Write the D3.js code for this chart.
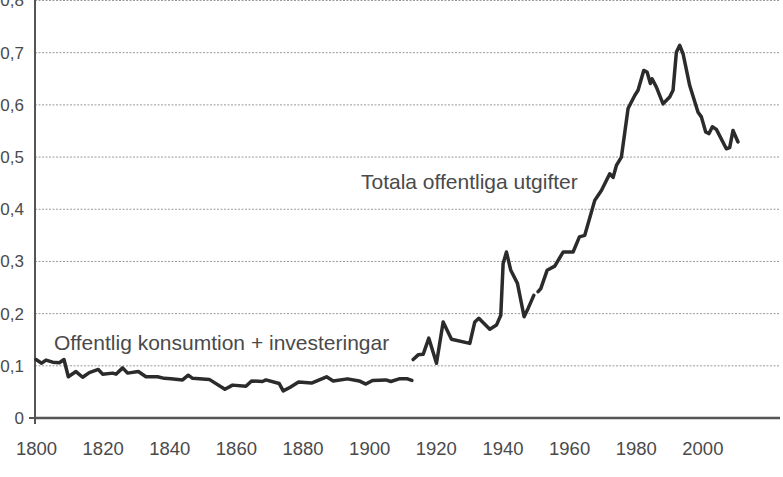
<!DOCTYPE html>
<html>
<head>
<meta charset="utf-8">
<script src="https://cdn.jsdelivr.net/npm/d3@7"></script>
<style>
  html, body { margin: 0; padding: 0; background: #fff; }
  svg { display: block; }
</style>
</head>
<body>
<svg id="chart" width="783" height="477"></svg>
<script>
// Offentlig konsumtion + investeringar (1800–1912)
const consYears = [1800,1801.7,1803,1805,1807,1808.4,1809.7,1812,1814,1816,1818.7,1820,1823,1824,1826,1827.5,1830.7,1833,1836.5,1838.5,1840.5,1844,1845.7,1847,1852,1856.7,1859,1863,1864.7,1868,1869,1873,1874.2,1876.3,1878.8,1882.7,1887.2,1889.2,1893.5,1897,1899,1901,1905,1906.5,1909,1911.5,1912.8];
const consValues = [0.112,0.105,0.111,0.107,0.106,0.112,0.079,0.089,0.078,0.087,0.093,0.084,0.086,0.084,0.096,0.086,0.089,0.079,0.079,0.076,0.075,0.073,0.082,0.076,0.074,0.055,0.063,0.061,0.071,0.070,0.073,0.066,0.052,0.059,0.069,0.067,0.079,0.071,0.075,0.071,0.065,0.072,0.073,0.070,0.075,0.075,0.072];

// Totala offentliga utgifter (1913–2010), null = break in series
const totYears = [1913.2,1914.7,1916.2,1917.9,1920.2,1922.2,1924.7,1930.2,1931.7,1932.9,1936.2,1938.2,1939.5,1940.2,1941.2,1942.5,1944.5,1946.5,1947.7,1949.4,1950.0,1950.7,1951.5,1953.4,1955.7,1958.2,1961.2,1963.1,1964.7,1967.7,1969.7,1972.2,1973.2,1974.2,1975.7,1977.7,1979.7,1980.7,1982.4,1983.4,1984.4,1984.9,1986.2,1988.2,1990.2,1991.2,1992.2,1993.2,1994.2,1996.2,1998.7,1999.7,2001,2002,2003,2004.2,2007.2,2008.2,2009.2,2010.7];
const totValues = [0.112,0.121,0.122,0.153,0.105,0.184,0.151,0.143,0.184,0.191,0.170,0.178,0.197,0.296,0.318,0.283,0.258,0.194,0.210,0.235,null,0.242,0.248,0.283,0.291,0.318,0.318,0.347,0.350,0.417,0.436,0.468,0.461,0.484,0.500,0.593,0.618,0.628,0.666,0.663,0.641,0.650,0.634,0.602,0.615,0.628,0.701,0.714,0.698,0.637,0.586,0.577,0.548,0.545,0.558,0.553,0.516,0.518,0.551,0.529];

const yTicks = [0,0.1,0.2,0.3,0.4,0.5,0.6,0.7,0.8];
const xTicks = [1800,1820,1840,1860,1880,1900,1920,1940,1960,1980,2000];
const labelTotal = "Totala offentliga utgifter";
const labelCons = "Offentlig konsumtion + investeringar";

const svg = d3.select("#chart");
const x = d3.scaleLinear().domain([1800, 2023]).range([36, 779]);
const y = d3.scaleLinear().domain([0, 0.8]).range([418, 0.5]);
const fmt = d => d === 0 ? "0" : d3.format(".1f")(d).replace(".", ",");
const font = "'Liberation Sans', Arial, Helvetica, sans-serif";
const textCol = "#4a4a4a";

// gridlines
svg.append("g").selectAll("line")
  .data(yTicks.filter(d => d > 0))
  .join("line")
  .attr("x1", 35).attr("x2", 780)
  .attr("y1", d => y(d)).attr("y2", d => y(d))
  .attr("stroke", "#9a9a9a").attr("stroke-width", 1)
  .attr("stroke-dasharray", "2,1.5");

// y axis
const yAxis = d3.axisLeft(y).tickValues(yTicks).tickFormat(fmt).tickSize(0).tickPadding(11);
const gy = svg.append("g").attr("transform", "translate(35,0)").call(yAxis);
gy.select(".domain").remove();
gy.selectAll("text").attr("font-family", font).attr("font-size", 17).attr("fill", textCol);
svg.append("line").attr("x1", 35).attr("x2", 35).attr("y1", 0).attr("y2", 424)
  .attr("stroke", "#555").attr("stroke-width", 2);
svg.append("line").attr("x1", 29).attr("x2", 35).attr("y1", y(0)).attr("y2", y(0))
  .attr("stroke", "#555").attr("stroke-width", 2);

// x axis
const xAxis = d3.axisBottom(x).tickValues(xTicks).tickFormat(d3.format("d")).tickSize(0).tickPadding(24);
const gx = svg.append("g").attr("transform", `translate(0,${y(0)})`).call(xAxis);
gx.select(".domain").remove();
gx.selectAll("text").attr("font-family", font).attr("font-size", 18.5).attr("fill", textCol);
svg.append("line").attr("x1", 34).attr("x2", 780).attr("y1", y(0)).attr("y2", y(0))
  .attr("stroke", "#555").attr("stroke-width", 2.5);

// lines
const line = d3.line()
  .defined(d => d[1] !== null)
  .x(d => x(d[0])).y(d => y(d[1]));

svg.append("path")
  .datum(d3.zip(consYears, consValues))
  .attr("d", line).attr("fill", "none")
  .attr("stroke", "#2b2b2b").attr("stroke-width", 3.5)
  .attr("stroke-linejoin", "round").attr("stroke-linecap", "round");

svg.append("path")
  .datum(d3.zip(totYears, totValues))
  .attr("d", line).attr("fill", "none")
  .attr("stroke", "#2b2b2b").attr("stroke-width", 3.5)
  .attr("stroke-linejoin", "round").attr("stroke-linecap", "round");

// annotations
svg.append("text").attr("x", 361).attr("y", 189).text(labelTotal)
  .attr("font-family", font).attr("font-size", 21).attr("fill", textCol);
svg.append("text").attr("x", 54).attr("y", 350).text(labelCons)
  .attr("font-family", font).attr("font-size", 21).attr("fill", textCol);
</script>
</body>
</html>
